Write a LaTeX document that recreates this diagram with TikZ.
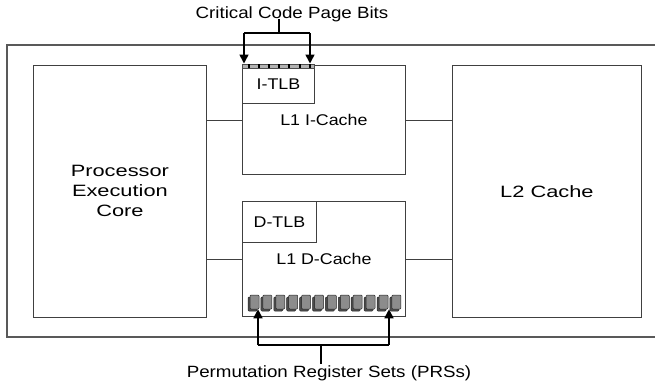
\documentclass[tikz,border=0pt]{standalone}
\usepackage{fontspec}
\usetikzlibrary{arrows.meta,shadows}
\newfontfamily\blockfont[FakeStretch=1.33]{Liberation Sans}
\newfontfamily\notefont[FakeStretch=1.15]{Liberation Sans}

\tikzset{
  unit/.style={draw=black!75, line width=0.8pt, fill=white, inner sep=0pt, anchor=north west,
    align=center, font=\blockfont\fontsize{16.4}{20}\selectfont},
  cache/.style={unit, font=\notefont\fontsize{15.5}{18}\selectfont},
  tlb/.style={cache},
  link/.style={draw=black!75, line width=0.8pt},
  frame/.style={draw=black!65, line width=1.1pt},
  note/.style={font=\notefont\fontsize{16.3}{19}\selectfont, inner sep=0pt},
  bar/.style={line width=1.6pt},
  tip/.style={bar, -{Triangle[width=9pt,length=9pt]}},
  reg/.style={draw=black!85, line width=0.5pt, fill=black!45, rounded corners=1pt,
    minimum width=9pt, minimum height=14pt, inner sep=0pt,
    copy shadow={shadow xshift=-2pt, shadow yshift=-2pt, fill=black!70, draw=black!85}}
}

\begin{document}
\begin{tikzpicture}[x=1pt, y=-1pt]
  \useasboundingbox (0,0) rectangle (655,384);

  % chip outline (open to the right)
  \draw[frame] (656,45) -| (7,337) -- (656,337);

  % main blocks
  \node[unit, minimum width=173pt, minimum height=252pt] (core) at (33,65) {Processor\\Execution\\Core};
  \node[unit, minimum width=189pt, minimum height=252pt] (ltwo) at (452,65) {L2 Cache};
  \node[cache, minimum width=163pt, minimum height=109pt] (icache) at (242,65) {L1 I-Cache};
  \node[cache, minimum width=163pt, minimum height=115pt] (dcache) at (242,201) {L1 D-Cache};
  \node[tlb, minimum width=72pt, minimum height=38pt] (itlb) at (242,65) {I-TLB};
  \node[tlb, minimum width=74pt, minimum height=41pt] (dtlb) at (242,201) {D-TLB};

  % buses
  \draw[link] (core.east |- icache.west) -- (icache.west);
  \draw[link] (core.east |- dcache.west) -- (dcache.west);
  \draw[link] (icache.east) -- (ltwo.west |- icache.east);
  \draw[link] (dcache.east) -- (ltwo.west |- dcache.east);

  % code page bits strip on top of the I-TLB
  \node[draw=black!70, line width=0.4pt, fill=black!30, inner sep=0pt, anchor=north west,
    minimum width=72pt, minimum height=4pt] (bits) at (242,63.5) {};
  \foreach \t in {0,...,6}
    \fill (248+10.1*\t,63.5) rectangle +(2,4);

  % permutation register sets
  \foreach \i in {0,...,11}
    \node[reg] (r\i) at (254.5+12.9*\i,302) {};

  % annotations
  \node[note, anchor=base] (cpnote) at (292,18) {Critical Code Page Bits};
  \node[note, anchor=base] (prsnote) at (329,377) {Permutation Register Sets (PRSs)};

  \coordinate (cptop) at (279,19);
  \coordinate (cpmid) at (279,33);
  \coordinate (cpl) at (244,33);
  \coordinate (cpr) at (310,33);
  \draw[bar] (cptop) -- (cpmid);
  \draw[bar] (cpl) -- (cpr);
  \draw[tip] (cpl) -- (cpl |- bits.north);
  \draw[tip] (cpr) -- (cpr |- bits.north);

  \coordinate (prbot) at (321,364);
  \coordinate (prmid) at (321,345);
  \coordinate (prl) at (258,345);
  \coordinate (prr) at (389,345);
  \draw[bar] (prbot) -- (prmid);
  \draw[bar] (prl) -- (prr);
  \draw[tip] (prl) -- (prl |- r0.south);
  \draw[tip] (prr) -- (prr |- r11.south);
\end{tikzpicture}
\end{document}
